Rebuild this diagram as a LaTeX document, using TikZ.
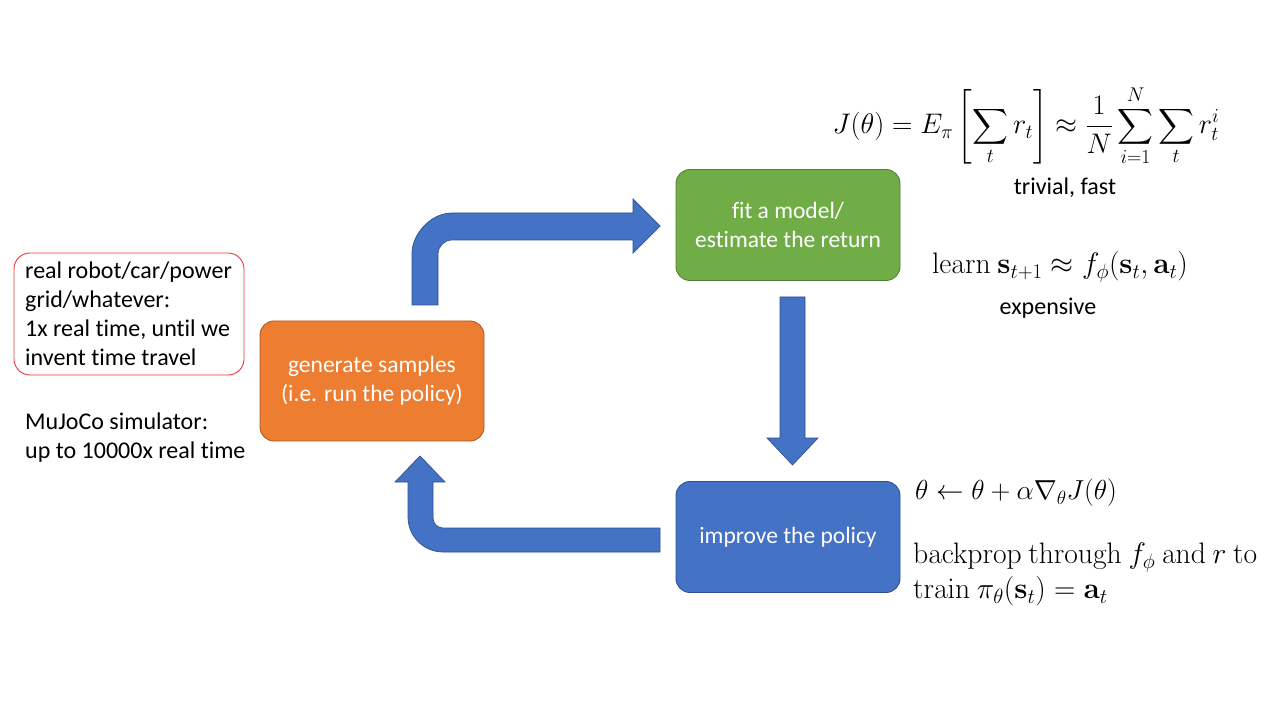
\RequirePackage{fix-cm}
\documentclass[tikz,border=0pt]{standalone}
\usepackage{amsmath}
\usepackage[no-math]{fontspec}
\setmainfont{Carlito}[Ligatures=NoCommon]
\definecolor{orfill}{HTML}{ED7D31}
\definecolor{ordraw}{HTML}{AE5A21}
\definecolor{grfill}{HTML}{70AD47}
\definecolor{grdraw}{HTML}{507E32}
\definecolor{blfill}{HTML}{4472C4}
\definecolor{bldraw}{HTML}{2F528F}
\definecolor{redline}{HTML}{F23A3A}
\tikzset{
  stepbox/.style={rounded corners=14pt, line width=0.9pt, text=white, align=center,
    font=\fontsize{23.5}{29}\selectfont, inner sep=0pt},
  blockarrow/.style={fill=blfill, draw=bldraw, line width=0.7pt},
  plain/.style={font=\fontsize{24}{29}\selectfont, inner sep=0pt},
  mathtxt/.style={font=\fontsize{27.5}{35}\selectfont, inner sep=0pt},
  mathbig/.style={font=\fontsize{29.6}{35}\selectfont, inner sep=0pt}
}
\begin{document}
\begin{tikzpicture}[x=1pt,y=-1pt]
\useasboundingbox[fill=white] (0,0) rectangle (1269,708);

% boxes
\node[stepbox, fill=orfill, draw=ordraw, minimum width=224pt, minimum height=120pt] (gen) at (372,381)
  {generate samples\\(i.e. run the policy)};
\node[stepbox, fill=grfill, draw=grdraw, minimum width=224pt, minimum height=111pt] (fit) at (788,225)
  {fit a model/\\estimate the return};
\node[stepbox, fill=blfill, draw=bldraw, minimum width=224pt, minimum height=111pt] (imp) at (788,537)
  {improve the policy};

% block arrows
\path[blockarrow] (412,305) -- (412,253) .. controls (412,235.1) and (429.9,213) .. (452,213)
  -- (633,213) -- (633,199) -- (660,226) -- (633,253) -- (633,240) -- (452,240)
  .. controls (444.3,240) and (438,246.3) .. (438,254) -- (438,305) -- cycle;
\path[blockarrow] (780,297) -- (805,297) -- (805,438) -- (818,438) -- (792.5,465) -- (767,438) -- (780,438) -- cycle;
\path[blockarrow] (660,552) -- (443,552) .. controls (423.7,552) and (408,536.3) .. (408,517)
  -- (408,482) -- (395,482) -- (420,456) -- (445,482) -- (433,482) -- (433,518)
  .. controls (433,523.5) and (437.5,528) .. (443,528) -- (660,528) -- cycle;

% left texts
\node[draw=redline, line width=0.9pt, rounded corners=16pt, minimum width=230pt, minimum height=122pt] (realbox) at (129,314) {};
\node[plain, anchor=north west, align=left] (real) at (25,262)
  {real robot/car/power\\grid/whatever:\\1x real time, until we\\invent time travel};
\node[plain, anchor=north west, align=left] (mujoco) at (25,413)
  {MuJoCo simulator:\\up to 10000x real time};

% right texts
\node[mathtxt, font=\fontsize{28.3}{35}\selectfont] (jeq) at (1026,126)
  {$\displaystyle J(\theta)=E_\pi\left[\sum_t r_t\right]\approx\frac{1}{N}\sum_{i=1}^N\sum_t r_t^i$};
\node[plain] (triv) at (1065,188) {trivial, fast};
\node[mathbig] (learn) at (1060,267)
  {$\mathrm{learn}\ \mathbf{s}_{t+1}\approx f_\phi(\mathbf{s}_t,\mathbf{a}_t)$};
\node[plain] (exp) at (1048,308) {expensive};
\node[mathtxt, anchor=west] (upd) at (915,493)
  {$\theta\leftarrow\theta+\alpha\nabla_\theta J(\theta)$};
\node[mathbig, anchor=north west, align=left] (bp) at (913,543)
  {$\mathrm{backprop\ through}\ f_\phi\ \mathrm{and}\ r\ \mathrm{to}$\\$\mathrm{train}\ \pi_\theta(\mathbf{s}_t)=\mathbf{a}_t$};
\end{tikzpicture}
\end{document}
